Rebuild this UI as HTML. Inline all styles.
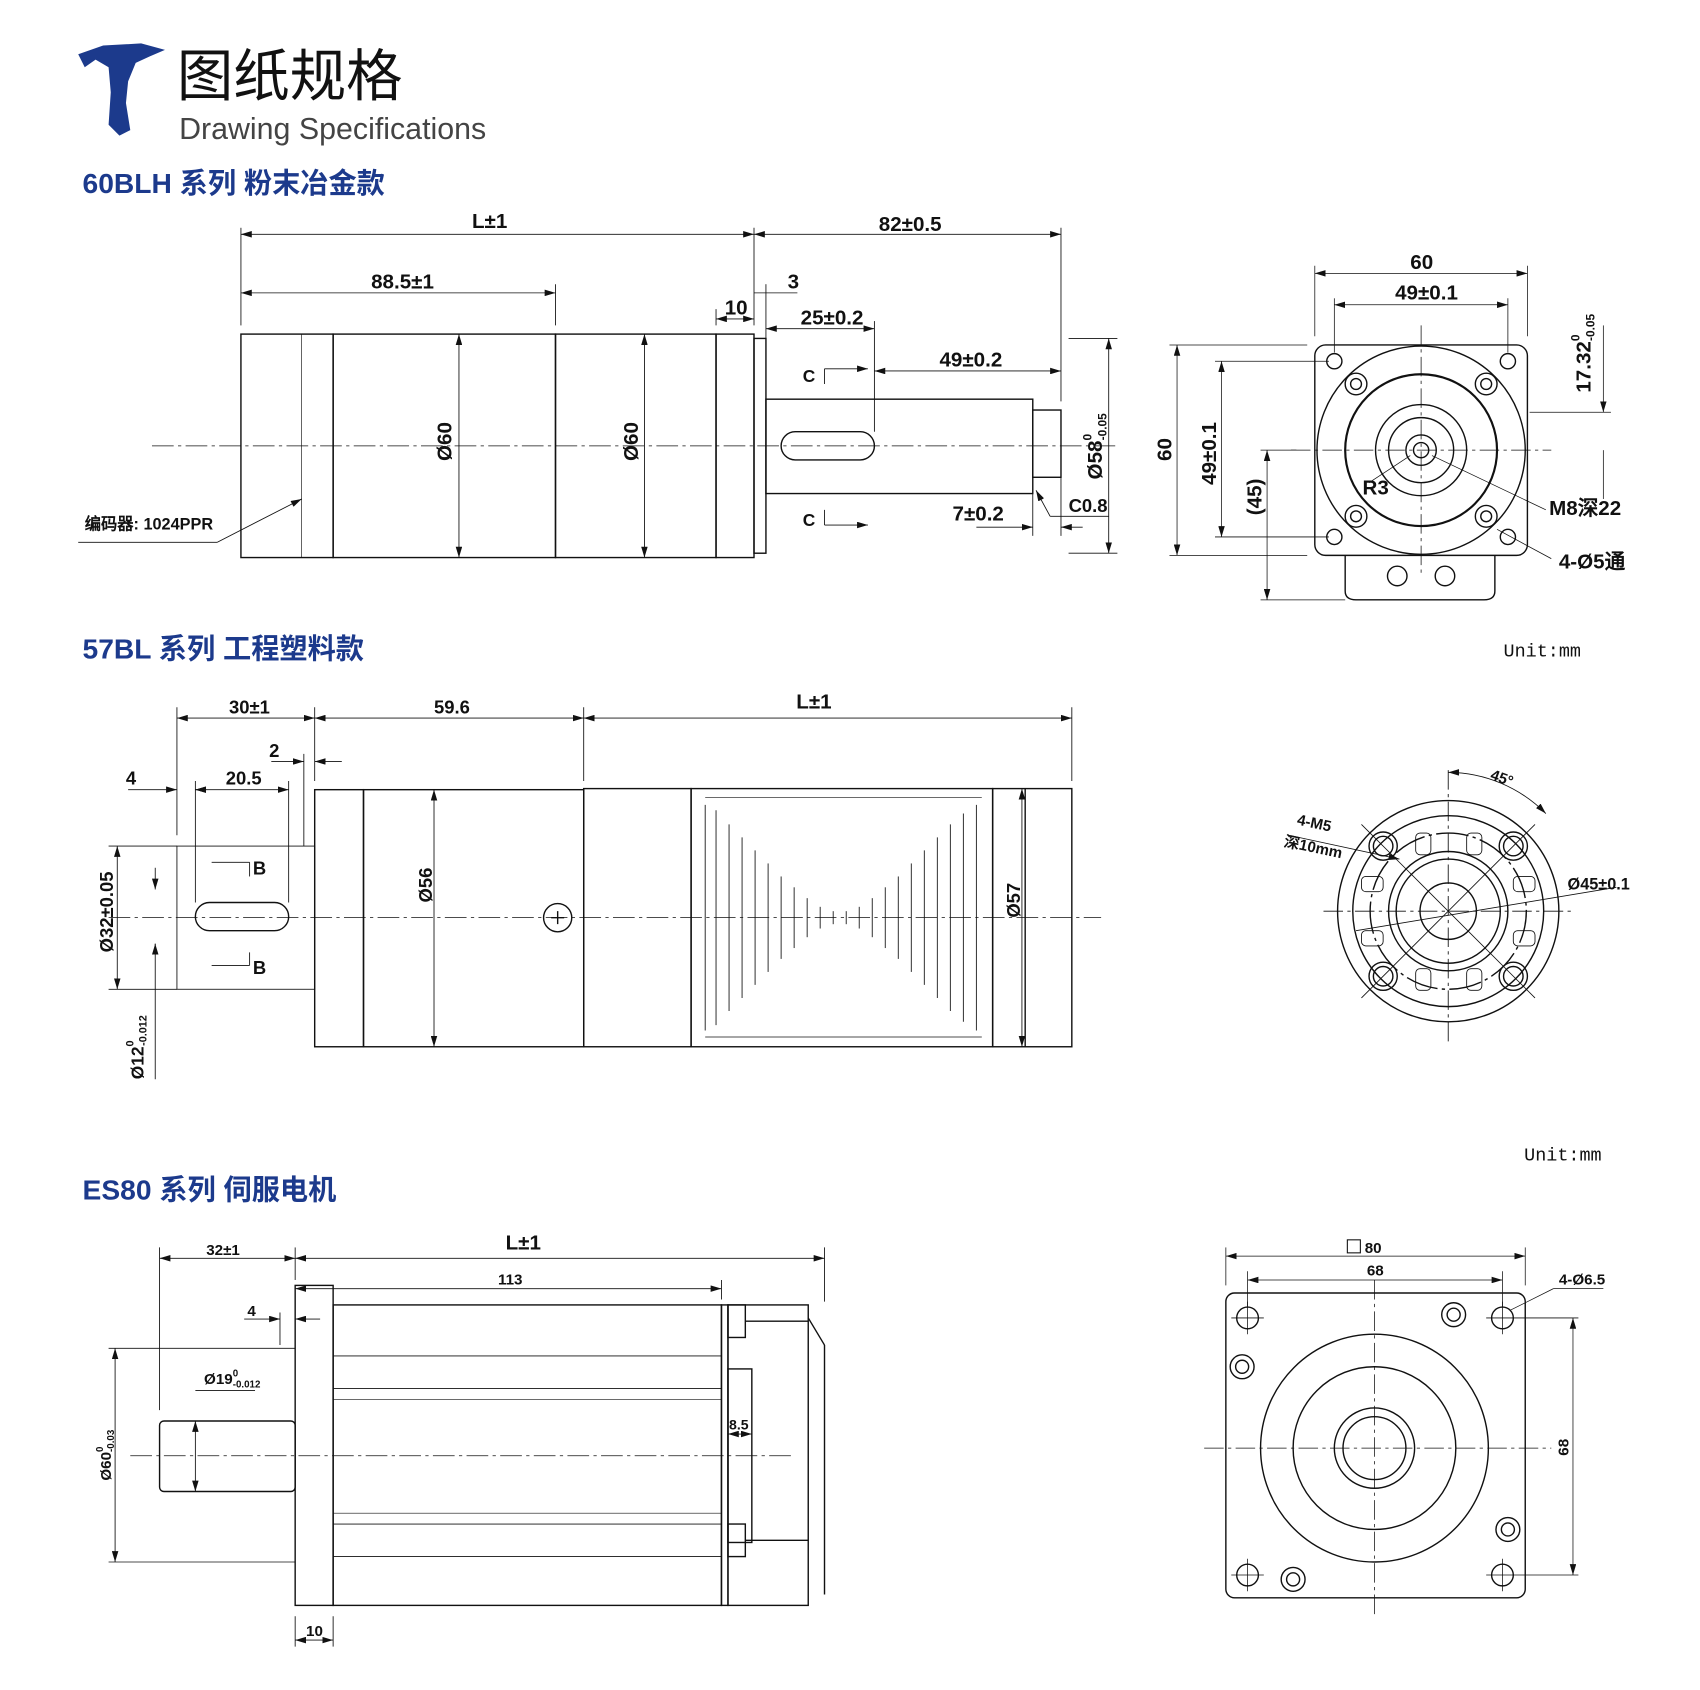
<!DOCTYPE html>
<html><head><meta charset="utf-8"><style>
html,body{margin:0;padding:0;background:#fff;}
svg{display:block}
.t{font-family:"Liberation Sans Narrow","Liberation Sans",sans-serif;font-weight:bold;fill:#111;}
.h{font-family:"Liberation Sans","Noto Sans CJK SC",sans-serif;font-weight:bold;fill:#1c3a8c;font-size:26px;}
</style></head><body>
<svg width="1700" height="1690" viewBox="0 0 1567 1558" xmlns="http://www.w3.org/2000/svg">
<defs><marker id="a" viewBox="0 0 10 6" refX="10" refY="3" markerWidth="10" markerHeight="6" orient="auto-start-reverse" markerUnits="userSpaceOnUse"><path d="M0,0L10,3L0,6z" fill="#111"/></marker></defs>
<!-- header -->
<path d="M72,50 L95,42 L130,40 L152,46 L138,52 L125,58 L118,75 L116,95 L120,120 L110,125 L100,115 L102,85 L100,62 L88,55 L78,62 Z" fill="#1c3a8c"/>
<text x="163" y="88" font-family="Liberation Sans,Noto Sans CJK SC,sans-serif" font-size="52" fill="#111">图纸规格</text>
<text x="165" y="128" font-family="Liberation Sans,sans-serif" font-size="28" fill="#444">Drawing Specifications</text>
<text x="76" y="178" class="h">60BLH 系列 粉末冶金款</text>
<text x="76" y="607" class="h">57BL 系列 工程塑料款</text>
<text x="76" y="1106" class="h">ES80 系列 伺服电机</text>

<g stroke="#111" fill="none" stroke-width="1.3">
<!-- Drawing 1 side -->
<rect x="222" y="308" width="85" height="206"/>
<line x1="278" y1="308" x2="278" y2="514" stroke-width="0.6"/>
<rect x="307" y="308" width="205" height="206"/>
<rect x="512" y="308" width="148" height="206"/>
<rect x="660" y="308" width="35" height="206"/>
<rect x="695" y="312" width="11" height="198"/>
<rect x="706" y="368" width="246" height="87"/>
<rect x="952" y="378" width="26" height="62"/>
<rect x="720" y="398" width="86" height="26" rx="13"/>
<line x1="140" y1="411" x2="1030" y2="411" stroke-dasharray="20,4,3,4" stroke-width="0.7"/>
<g stroke-width="0.8">
<line x1="222" y1="300" x2="222" y2="210"/><line x1="695" y1="300" x2="695" y2="210"/><line x1="978" y1="370" x2="978" y2="210"/>
<line x1="222" y1="216" x2="695" y2="216" marker-start="url(#a)" marker-end="url(#a)"/>
<line x1="695" y1="216" x2="978" y2="216" marker-start="url(#a)" marker-end="url(#a)"/>
<line x1="222" y1="270" x2="512" y2="270" marker-start="url(#a)" marker-end="url(#a)"/><line x1="512" y1="300" x2="512" y2="262"/>
<line x1="660" y1="300" x2="660" y2="285"/><line x1="660" y1="294" x2="695" y2="294" marker-start="url(#a)" marker-end="url(#a)"/>
<line x1="706" y1="360" x2="706" y2="262"/><line x1="695" y1="270" x2="735" y2="270"/>
<line x1="706" y1="303" x2="806" y2="303" marker-start="url(#a)" marker-end="url(#a)"/><line x1="806" y1="398" x2="806" y2="296"/>
<line x1="806" y1="342" x2="978" y2="342" marker-start="url(#a)" marker-end="url(#a)"/>
<line x1="760" y1="354" x2="760" y2="340"/><line x1="760" y1="340" x2="800" y2="340" marker-end="url(#a)"/>
<line x1="760" y1="470" x2="760" y2="484"/><line x1="760" y1="484" x2="800" y2="484" marker-end="url(#a)"/>
<line x1="900" y1="486" x2="952" y2="486" marker-end="url(#a)"/><line x1="978" y1="486" x2="998" y2="486" marker-start="url(#a)"/><line x1="952" y1="455" x2="952" y2="494"/><line x1="978" y1="440" x2="978" y2="494"/>
<line x1="955" y1="452" x2="968" y2="476" marker-start="url(#a)"/><line x1="968" y1="476" x2="1022" y2="476"/>
<line x1="423" y1="308" x2="423" y2="514" marker-start="url(#a)" marker-end="url(#a)"/>
<line x1="594" y1="308" x2="594" y2="514" marker-start="url(#a)" marker-end="url(#a)"/>
<line x1="985" y1="312" x2="1030" y2="312"/><line x1="985" y1="510" x2="1030" y2="510"/>
<line x1="1022" y1="312" x2="1022" y2="510" marker-start="url(#a)" marker-end="url(#a)"/>
<line x1="72" y1="500" x2="200" y2="500"/><line x1="200" y1="500" x2="278" y2="460" marker-end="url(#a)"/>
</g>
<!-- front view 1 -->
<rect x="1212" y="318" width="196" height="194" rx="10"/>
<path d="M1240,512 V545 Q1240,553 1250,553 H1368 Q1378,553 1378,545 V512"/>
<circle cx="1288" cy="531" r="9"/><circle cx="1332" cy="531" r="9"/>
<circle cx="1310" cy="415" r="96"/><circle cx="1310" cy="415" r="70" stroke-width="2"/><circle cx="1310" cy="415" r="42"/><circle cx="1310" cy="415" r="30"/><circle cx="1310" cy="415" r="14"/><circle cx="1310" cy="415" r="7"/>
<g><circle cx="1230" cy="333" r="7"/><circle cx="1390" cy="333" r="7"/><circle cx="1230" cy="495" r="7"/><circle cx="1390" cy="495" r="7"/>
<circle cx="1250" cy="354" r="10"/><circle cx="1370" cy="354" r="10"/><circle cx="1250" cy="476" r="10"/><circle cx="1370" cy="476" r="10"/>
<circle cx="1250" cy="354" r="5"/><circle cx="1370" cy="354" r="5"/><circle cx="1250" cy="476" r="5"/><circle cx="1370" cy="476" r="5"/></g>
<g stroke-width="0.7"><line x1="1190" y1="415" x2="1430" y2="415" stroke-dasharray="18,4,3,4"/><line x1="1310" y1="300" x2="1310" y2="530" stroke-dasharray="18,4,3,4"/>
<line x1="1212" y1="310" x2="1212" y2="245"/><line x1="1408" y1="310" x2="1408" y2="245"/><line x1="1212" y1="252" x2="1408" y2="252" marker-start="url(#a)" marker-end="url(#a)"/>
<line x1="1230" y1="325" x2="1230" y2="275"/><line x1="1390" y1="325" x2="1390" y2="275"/><line x1="1230" y1="281" x2="1390" y2="281" marker-start="url(#a)" marker-end="url(#a)"/>
<line x1="1078" y1="318" x2="1205" y2="318"/><line x1="1078" y1="512" x2="1205" y2="512"/><line x1="1085" y1="318" x2="1085" y2="512" marker-start="url(#a)" marker-end="url(#a)"/>
<line x1="1120" y1="333" x2="1225" y2="333"/><line x1="1120" y1="495" x2="1225" y2="495"/><line x1="1126" y1="333" x2="1126" y2="495" marker-start="url(#a)" marker-end="url(#a)"/>
<line x1="1162" y1="415" x2="1195" y2="415"/><line x1="1162" y1="553" x2="1240" y2="553"/><line x1="1168" y1="415" x2="1168" y2="553" marker-start="url(#a)" marker-end="url(#a)"/>
<line x1="1410" y1="380" x2="1485" y2="380"/><line x1="1478" y1="300" x2="1478" y2="380" marker-end="url(#a)"/><line x1="1478" y1="415" x2="1478" y2="460"/>
<line x1="1320" y1="420" x2="1425" y2="470"/><line x1="1380" y1="488" x2="1430" y2="515"/>
<line x1="1262" y1="445" x2="1300" y2="420"/></g>

<!-- Drawing 2 side -->
<rect x="163" y="780" width="127" height="132" stroke-width="0.8"/>
<rect x="180" y="832" width="86" height="26" rx="13"/>
<rect x="290" y="728" width="45" height="237"/>
<rect x="335" y="728" width="203" height="237"/>
<rect x="538" y="727" width="99" height="238"/>
<rect x="637" y="727" width="278" height="238"/>
<rect x="915" y="727" width="73" height="238"/>
<line x1="945" y1="727" x2="945" y2="965"/>
<line x1="650" y1="735" x2="905" y2="735" stroke-width="0.6"/><line x1="650" y1="956" x2="905" y2="956" stroke-width="0.6"/>
<g stroke-width="0.8">
<line x1="650" y1="742" x2="650" y2="950"/><line x1="660" y1="747" x2="660" y2="945"/><line x1="672" y1="760" x2="672" y2="932"/><line x1="684" y1="772" x2="684" y2="920"/><line x1="696" y1="784" x2="696" y2="908"/><line x1="708" y1="796" x2="708" y2="896"/><line x1="720" y1="808" x2="720" y2="884"/><line x1="732" y1="818" x2="732" y2="874"/><line x1="744" y1="828" x2="744" y2="864"/><line x1="756" y1="836" x2="756" y2="856"/><line x1="768" y1="840" x2="768" y2="852"/>
<line x1="900" y1="742" x2="900" y2="950"/><line x1="888" y1="750" x2="888" y2="942"/><line x1="876" y1="760" x2="876" y2="932"/><line x1="864" y1="772" x2="864" y2="920"/><line x1="852" y1="784" x2="852" y2="908"/><line x1="840" y1="796" x2="840" y2="896"/><line x1="828" y1="808" x2="828" y2="884"/><line x1="816" y1="818" x2="816" y2="874"/><line x1="804" y1="828" x2="804" y2="864"/><line x1="792" y1="836" x2="792" y2="856"/><line x1="780" y1="840" x2="780" y2="852"/>
</g>
<circle cx="514" cy="846" r="13"/><path d="M508,846H520M514,840V852"/>
<line x1="100" y1="846" x2="1015" y2="846" stroke-dasharray="20,4,3,4" stroke-width="0.7"/>
<g stroke-width="0.8">
<line x1="163" y1="770" x2="163" y2="652"/><line x1="290" y1="720" x2="290" y2="652"/><line x1="538" y1="720" x2="538" y2="652"/><line x1="988" y1="720" x2="988" y2="652"/>
<line x1="163" y1="662" x2="290" y2="662" marker-start="url(#a)" marker-end="url(#a)"/><line x1="290" y1="662" x2="538" y2="662" marker-start="url(#a)" marker-end="url(#a)"/><line x1="538" y1="662" x2="988" y2="662" marker-start="url(#a)" marker-end="url(#a)"/>
<line x1="280" y1="780" x2="280" y2="695"/><line x1="250" y1="702" x2="280" y2="702" marker-end="url(#a)"/><line x1="290" y1="702" x2="315" y2="702" marker-start="url(#a)"/>
<line x1="180" y1="832" x2="180" y2="720"/><line x1="266" y1="832" x2="266" y2="720"/><line x1="180" y1="728" x2="266" y2="728" marker-start="url(#a)" marker-end="url(#a)"/>
<line x1="118" y1="728" x2="163" y2="728" marker-end="url(#a)"/><line x1="180" y1="728" x2="190" y2="728" marker-start="url(#a)"/>
<line x1="100" y1="780" x2="163" y2="780"/><line x1="100" y1="912" x2="163" y2="912"/><line x1="108" y1="780" x2="108" y2="912" marker-start="url(#a)" marker-end="url(#a)"/>
<line x1="143" y1="800" x2="143" y2="820" marker-end="url(#a)"/><line x1="143" y1="870" x2="143" y2="995"/><line x1="143" y1="870" x2="143" y2="871" marker-start="url(#a)"/>
<line x1="195" y1="795" x2="230" y2="795"/><line x1="230" y1="795" x2="230" y2="808"/><line x1="195" y1="890" x2="230" y2="890"/><line x1="230" y1="890" x2="230" y2="878"/>
<line x1="400" y1="728" x2="400" y2="965" marker-start="url(#a)" marker-end="url(#a)"/>
<line x1="942" y1="727" x2="942" y2="965" marker-start="url(#a)" marker-end="url(#a)"/>
</g>
<!-- front view 2 -->
<circle cx="1335" cy="840" r="102"/><circle cx="1335" cy="840" r="88"/><circle cx="1335" cy="840" r="72" stroke-dasharray="30,4,3,4"/><circle cx="1335" cy="840" r="55"/><circle cx="1335" cy="840" r="48"/><circle cx="1335" cy="840" r="26"/>
<g><circle cx="1275" cy="780" r="13"/><circle cx="1275" cy="780" r="9"/><circle cx="1395" cy="780" r="13"/><circle cx="1395" cy="780" r="9"/><circle cx="1275" cy="900" r="13"/><circle cx="1275" cy="900" r="9"/><circle cx="1395" cy="900" r="13"/><circle cx="1395" cy="900" r="9"/></g>
<g stroke-width="0.8"><rect x="1305" y="768" width="14" height="20" rx="4"/><rect x="1352" y="768" width="14" height="20" rx="4"/><rect x="1305" y="893" width="14" height="20" rx="4"/><rect x="1352" y="893" width="14" height="20" rx="4"/>
<rect x="1255" y="808" width="20" height="14" rx="4"/><rect x="1255" y="858" width="20" height="14" rx="4"/><rect x="1395" y="808" width="20" height="14" rx="4"/><rect x="1395" y="858" width="20" height="14" rx="4"/>
<line x1="1220" y1="840" x2="1450" y2="840" stroke-dasharray="18,4,3,4"/><line x1="1335" y1="710" x2="1335" y2="960" stroke-dasharray="18,4,3,4"/>
<line x1="1255" y1="760" x2="1415" y2="920"/><line x1="1415" y1="760" x2="1255" y2="920"/>
<path d="M1335,712 A128,128 0 0 1 1425,750" marker-start="url(#a)" marker-end="url(#a)"/>
<line x1="1188" y1="770" x2="1290" y2="792" marker-end="url(#a)"/><line x1="1490" y1="818" x2="1250" y2="858"/></g>

<!-- Drawing 3 side -->
<rect x="147" y="1310" width="125" height="65" rx="4"/>
<rect x="272" y="1185" width="35" height="295"/>
<rect x="307" y="1203" width="358" height="277"/>
<line x1="307" y1="1250" x2="665" y2="1250" stroke-width="0.8"/><line x1="307" y1="1280" x2="665" y2="1280" stroke-width="0.8"/><line x1="307" y1="1290" x2="665" y2="1290" stroke-width="0.6"/>
<line x1="307" y1="1395" x2="665" y2="1395" stroke-width="0.6"/><line x1="307" y1="1405" x2="665" y2="1405" stroke-width="0.8"/><line x1="307" y1="1435" x2="665" y2="1435" stroke-width="0.8"/>
<rect x="665" y="1203" width="6" height="277"/><rect x="671" y="1203" width="74" height="277"/>
<rect x="671" y="1203" width="16" height="30"/><rect x="671" y="1405" width="16" height="30"/><rect x="671" y="1262" width="22" height="160"/>
<line x1="687" y1="1218" x2="745" y2="1218"/><line x1="687" y1="1420" x2="745" y2="1420"/>
<line x1="745" y1="1215" x2="760" y2="1240"/><line x1="760" y1="1240" x2="760" y2="1470"/>
<line x1="120" y1="1342" x2="730" y2="1342" stroke-dasharray="20,4,3,4" stroke-width="0.7"/>
<g stroke-width="0.8">
<line x1="147" y1="1300" x2="147" y2="1150"/><line x1="272" y1="1180" x2="272" y2="1150"/><line x1="760" y1="1200" x2="760" y2="1150"/>
<line x1="147" y1="1160" x2="272" y2="1160" marker-start="url(#a)" marker-end="url(#a)"/><line x1="272" y1="1160" x2="760" y2="1160" marker-start="url(#a)" marker-end="url(#a)"/>
<line x1="665" y1="1198" x2="665" y2="1180"/><line x1="272" y1="1188" x2="665" y2="1188" marker-start="url(#a)" marker-end="url(#a)"/>
<line x1="225" y1="1216" x2="258" y2="1216" marker-end="url(#a)"/><line x1="258" y1="1210" x2="258" y2="1240"/><line x1="272" y1="1216" x2="295" y2="1216" marker-start="url(#a)"/>
<line x1="100" y1="1243" x2="272" y2="1243"/><line x1="100" y1="1440" x2="272" y2="1440"/><line x1="106" y1="1243" x2="106" y2="1440" marker-start="url(#a)" marker-end="url(#a)"/>
<line x1="180" y1="1310" x2="180" y2="1375" marker-start="url(#a)" marker-end="url(#a)"/><line x1="180" y1="1282" x2="235" y2="1282"/>
<line x1="272" y1="1490" x2="272" y2="1518"/><line x1="307" y1="1490" x2="307" y2="1518"/><line x1="272" y1="1512" x2="307" y2="1512" marker-start="url(#a)" marker-end="url(#a)"/>
<line x1="671" y1="1322" x2="693" y2="1322" marker-start="url(#a)" marker-end="url(#a)"/>
</g>
<!-- front view 3 -->
<rect x="1130" y="1192" width="276" height="281" rx="8"/>
<circle cx="1267" cy="1335" r="105"/><circle cx="1267" cy="1335" r="75"/><circle cx="1267" cy="1335" r="37"/><circle cx="1267" cy="1335" r="29"/>
<g><circle cx="1150" cy="1215" r="10"/><circle cx="1385" cy="1215" r="10"/><circle cx="1150" cy="1452" r="10"/><circle cx="1385" cy="1452" r="10"/>
<circle cx="1340" cy="1212" r="11"/><circle cx="1340" cy="1212" r="6"/><circle cx="1145" cy="1260" r="11"/><circle cx="1145" cy="1260" r="6"/><circle cx="1390" cy="1410" r="11"/><circle cx="1390" cy="1410" r="6"/><circle cx="1192" cy="1456" r="11"/><circle cx="1192" cy="1456" r="6"/></g>
<g stroke-width="0.7"><line x1="1110" y1="1335" x2="1430" y2="1335" stroke-dasharray="18,4,3,4"/><line x1="1267" y1="1180" x2="1267" y2="1490" stroke-dasharray="18,4,3,4"/>
<line x1="1135" y1="1215" x2="1165" y2="1215"/><line x1="1150" y1="1200" x2="1150" y2="1230"/><line x1="1370" y1="1215" x2="1455" y2="1215"/><line x1="1385" y1="1200" x2="1385" y2="1230"/>
<line x1="1135" y1="1452" x2="1165" y2="1452"/><line x1="1150" y1="1437" x2="1150" y2="1467"/><line x1="1370" y1="1452" x2="1455" y2="1452"/><line x1="1385" y1="1437" x2="1385" y2="1467"/>
<line x1="1130" y1="1185" x2="1130" y2="1150"/><line x1="1406" y1="1185" x2="1406" y2="1150"/><line x1="1130" y1="1158" x2="1406" y2="1158" marker-start="url(#a)" marker-end="url(#a)"/>
<line x1="1150" y1="1205" x2="1150" y2="1172"/><line x1="1385" y1="1205" x2="1385" y2="1172"/><line x1="1150" y1="1180" x2="1385" y2="1180" marker-start="url(#a)" marker-end="url(#a)"/>
<line x1="1450" y1="1215" x2="1450" y2="1452" marker-start="url(#a)" marker-end="url(#a)"/>
<line x1="1392" y1="1208" x2="1432" y2="1188"/><line x1="1432" y1="1188" x2="1478" y2="1188"/></g>
<rect x="1242" y="1143" width="12" height="12" stroke-width="1"/>
</g>

<!-- labels -->
<g class="t" font-size="19">
<text x="435" y="210">L±1</text><text x="810" y="213">82±0.5</text><text x="342" y="266">88.5±1</text>
<text x="668" y="290">10</text><text x="726" y="266">3</text><text x="738" y="299">25±0.2</text><text x="866" y="338">49±0.2</text>
<text x="740" y="352" font-size="16">C</text><text x="740" y="485" font-size="16">C</text><text x="878" y="480">7±0.2</text><text x="985" y="472" font-size="17">C0.8</text>
<text transform="translate(416,425) rotate(-90)">Ø60</text><text transform="translate(588,425) rotate(-90)">Ø60</text>
<text transform="translate(1016,442) rotate(-90)">Ø58<tspan font-size="11" dy="-10">0</tspan><tspan font-size="11" dx="-6" dy="14">-0.05</tspan></text>
<text x="78" y="488" font-size="15">编码器: 1024PPR</text>
<text x="1300" y="248">60</text><text x="1286" y="276">49±0.1</text>
<text transform="translate(1080,425) rotate(-90)">60</text><text transform="translate(1121,447) rotate(-90)">49±0.1</text><text transform="translate(1163,475) rotate(-90)">(45)</text>
<text transform="translate(1466,362) rotate(-90)">17.32<tspan font-size="11" dy="-10">0</tspan><tspan font-size="11" dx="-6" dy="14">-0.05</tspan></text>
<text x="1256" y="456">R3</text><text x="1428" y="475">M8深22</text><text x="1437" y="524">4-Ø5通</text>
<text x="1386" y="605" font-size="17" font-weight="normal" font-family="Liberation Mono,monospace">Unit:mm</text>
<text x="1405" y="1070" font-size="17" font-weight="normal" font-family="Liberation Mono,monospace">Unit:mm</text>
<text x="211" y="658" font-size="17">30±1</text><text x="400" y="658" font-size="17">59.6</text><text x="734" y="653">L±1</text>
<text x="248" y="698" font-size="17">2</text><text x="116" y="723" font-size="17">4</text><text x="208" y="723" font-size="17">20.5</text>
<text x="233" y="806" font-size="17">B</text><text x="233" y="898" font-size="17">B</text>
<text transform="translate(104,878) rotate(-90)" font-size="17">Ø32±0.05</text><text transform="translate(132,995) rotate(-90)" font-size="16">Ø12<tspan font-size="10" dy="-9">0</tspan><tspan font-size="10" dx="-5" dy="12">-0.012</tspan></text>
<text transform="translate(398,832) rotate(-90)" font-size="17">Ø56</text><text transform="translate(940,846) rotate(-90)" font-size="17">Ø57</text>
<text transform="translate(1373,718) rotate(20)" font-size="14">45°</text>
<text transform="translate(1195,760) rotate(12)" font-size="14">4-M5</text><text transform="translate(1183,780) rotate(12)" font-size="14">深10mm</text>
<text x="1445" y="820" font-size="15">Ø45±0.1</text>
<text x="190" y="1157" font-size="14">32±1</text><text x="466" y="1152">L±1</text><text x="459" y="1184" font-size="14">113</text>
<text x="228" y="1213" font-size="14">4</text><text x="188" y="1276" font-size="14">Ø19<tspan font-size="9" dy="-7">0</tspan><tspan font-size="9" dx="-5" dy="10">-0.012</tspan></text>
<text transform="translate(102,1365) rotate(-90)" font-size="14">Ø60<tspan font-size="9" dy="-7">0</tspan><tspan font-size="9" dx="-5" dy="10">-0.03</tspan></text>
<text x="672" y="1318" font-size="13">8.5</text><text x="282" y="1508" font-size="14">10</text>
<text x="1258" y="1155" font-size="14">80</text><text x="1260" y="1176" font-size="14">68</text><text x="1437" y="1184" font-size="14">4-Ø6.5</text>
<text transform="translate(1446,1342) rotate(-90)" font-size="14">68</text>
</g>
</svg>
</body></html>
